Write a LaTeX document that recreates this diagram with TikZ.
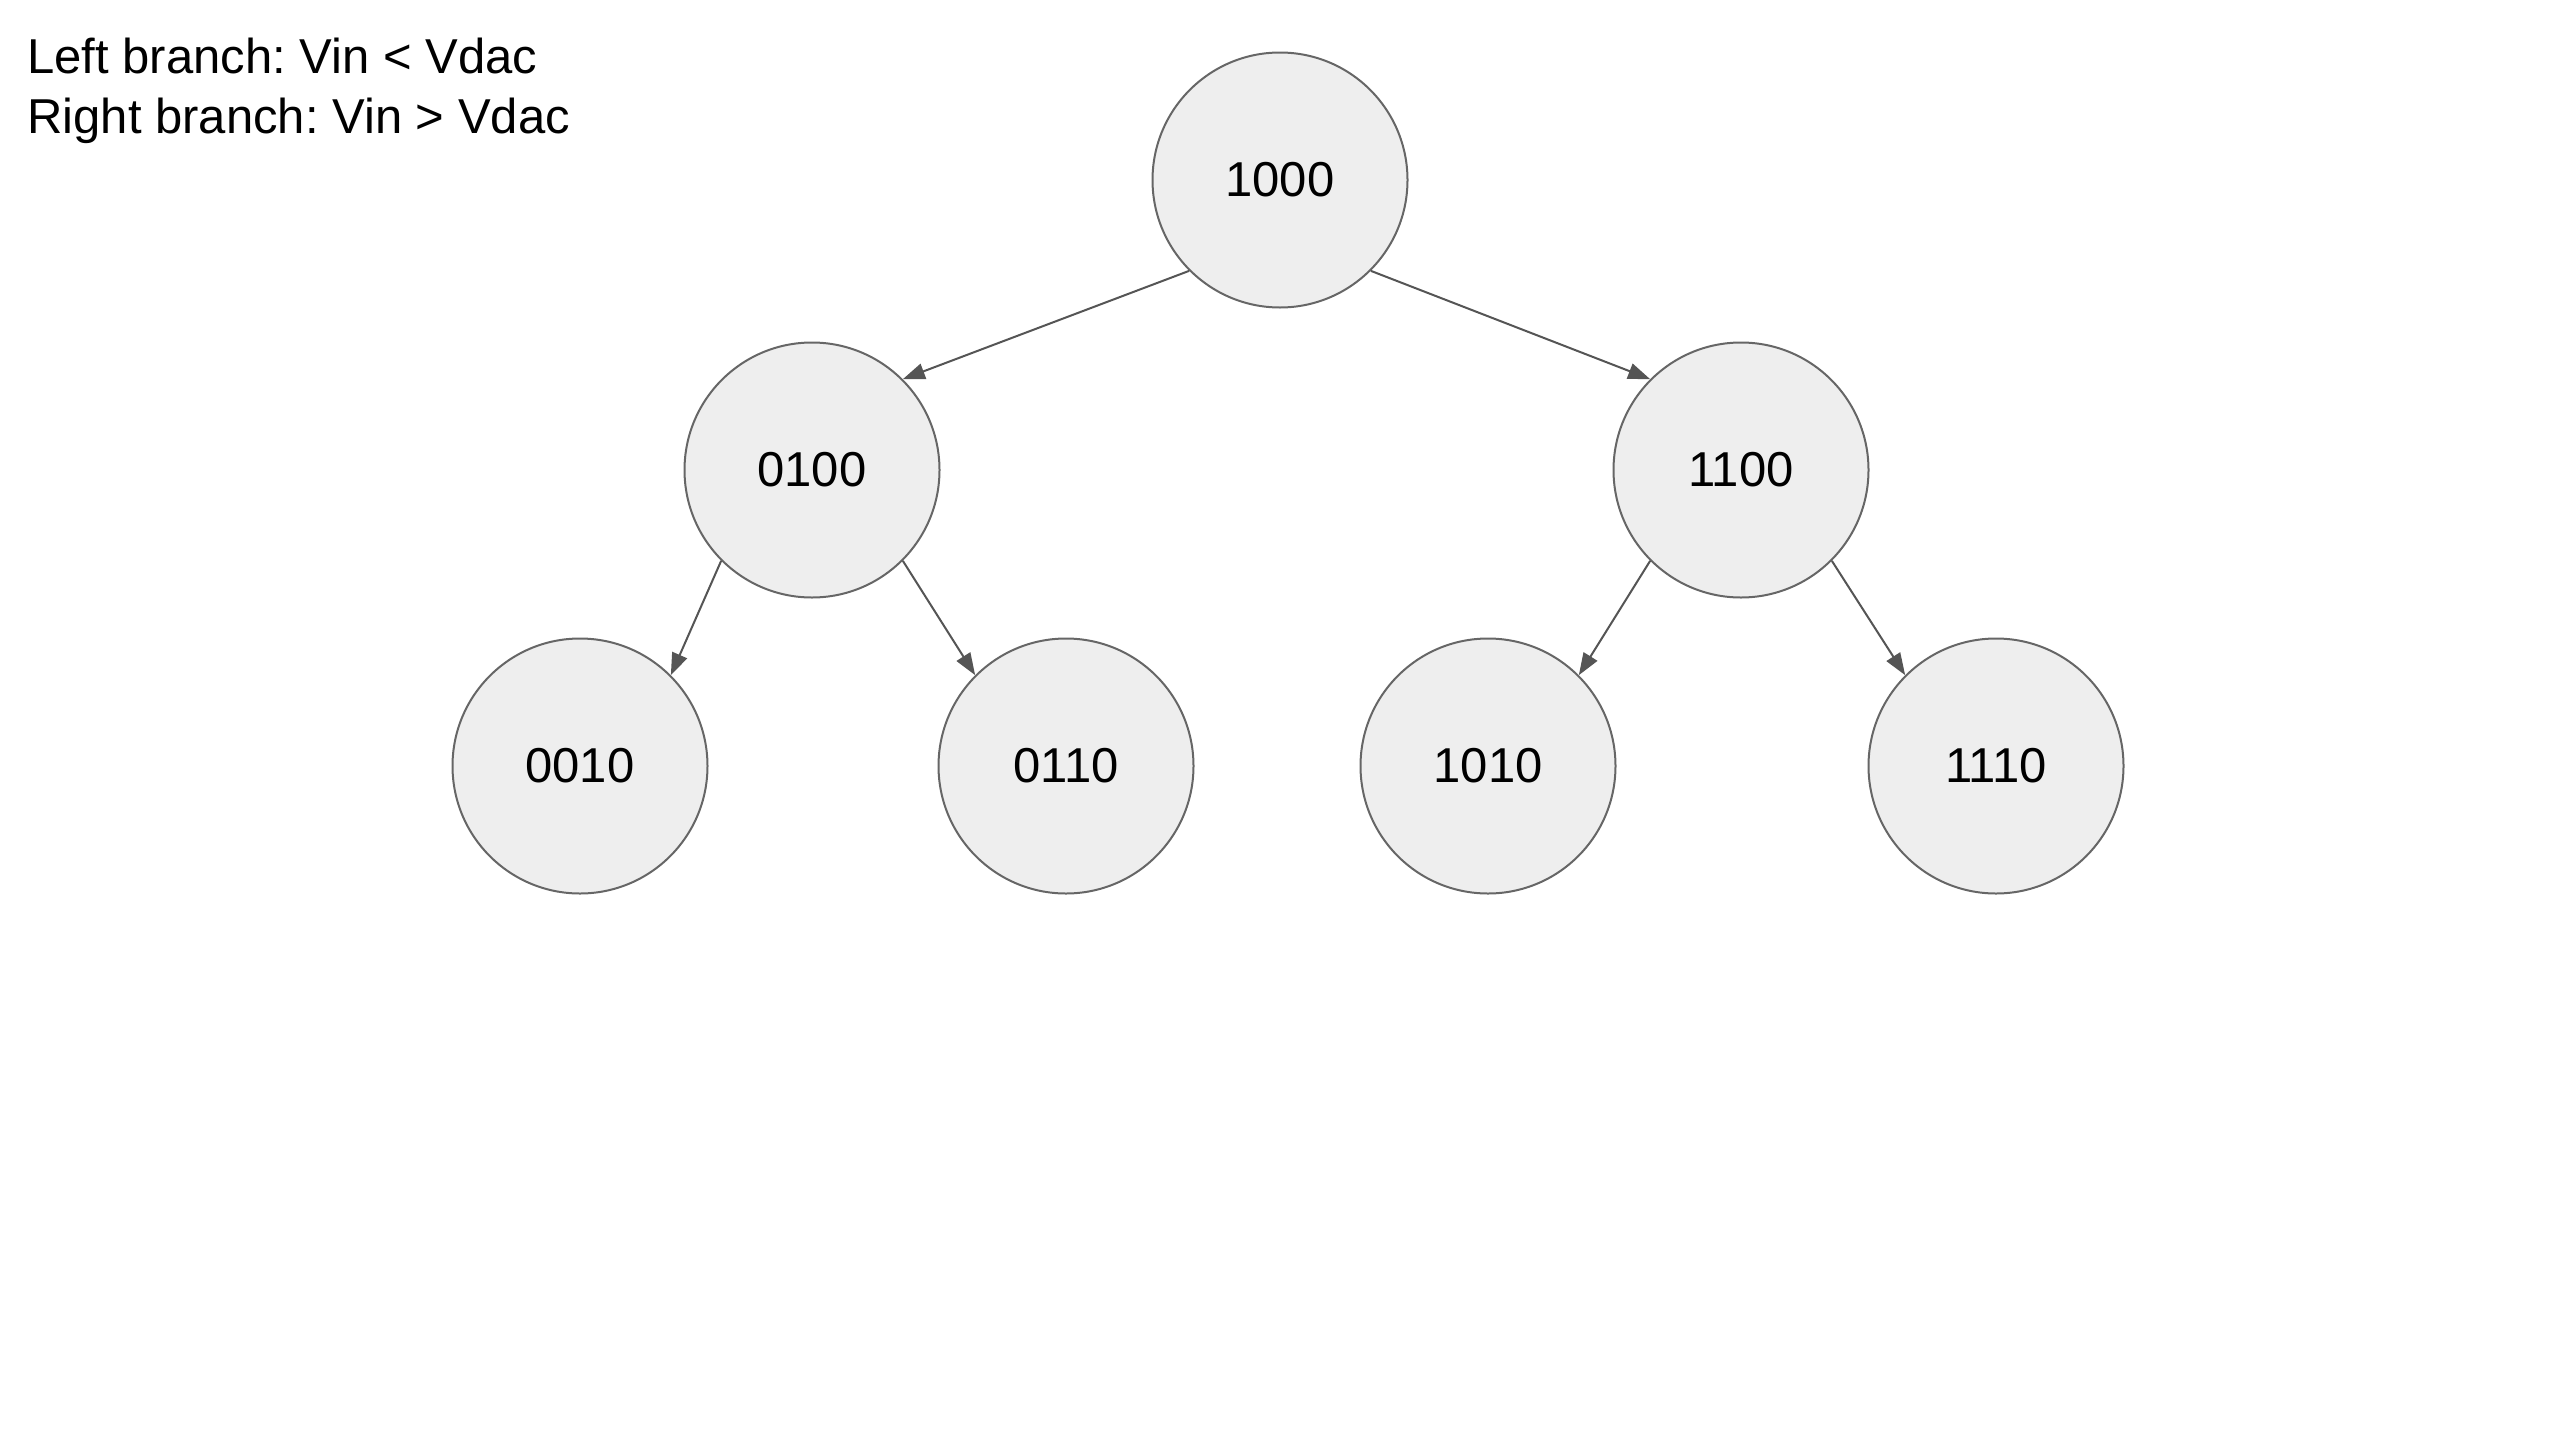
\documentclass[tikz,border=0pt]{standalone}
\usepackage{fontspec}
\setmainfont{Liberation Sans}
\usetikzlibrary{arrows.meta}
\definecolor{nodefill}{HTML}{EEEEEE}
\definecolor{nodeline}{HTML}{666666}
\definecolor{edgeline}{HTML}{555555}
\frenchspacing
\tikzset{
  state/.style={circle, draw=nodeline, line width=1pt, fill=nodefill, minimum size=127.5pt, inner sep=0pt, font=\fontsize{24.5}{29}\selectfont},
  edge/.style={draw=edgeline, line width=1pt, -{Triangle[length=11pt,width=8pt]}},
  legend/.style={anchor=base west, inner sep=0pt, font=\fontsize{24.5}{29}\selectfont}
}
\begin{document}
\begin{tikzpicture}[x=0.5pt,y=-0.5pt]
\useasboundingbox (0,0) rectangle (2560,1440);
\node[legend] (l1) at (27,73) {Left branch: Vin < Vdac};
\node[legend] (l2) at (27,133) {Right branch: Vin > Vdac};
\node[state] (n1000) at (1280,180) {1000};
\node[state] (n0100) at (812,470) {0100};
\node[state] (n1100) at (1741,470) {1100};
\node[state] (n0010) at (580,766) {0010};
\node[state] (n0110) at (1066,766) {0110};
\node[state] (n1010) at (1488,766) {1010};
\node[state] (n1110) at (1996,766) {1110};
\draw[edge] (n1000.south west) -- (n0100.north east);
\draw[edge] (n1000.south east) -- (n1100.north west);
\draw[edge] (n0100.south west) -- (n0010.north east);
\draw[edge] (n0100.south east) -- (n0110.north west);
\draw[edge] (n1100.south west) -- (n1010.north east);
\draw[edge] (n1100.south east) -- (n1110.north west);
\end{tikzpicture}
\end{document}
